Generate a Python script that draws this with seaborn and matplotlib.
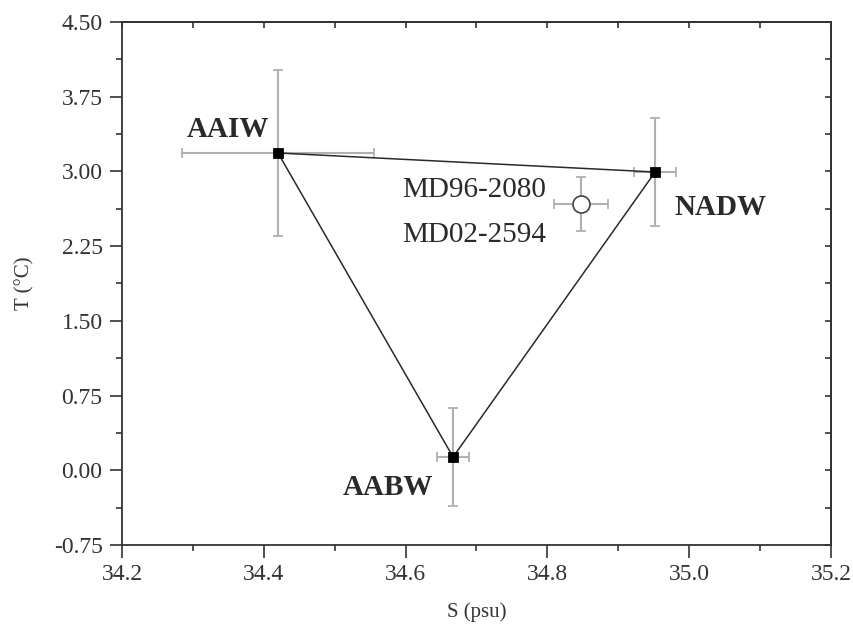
import matplotlib
matplotlib.use('Agg')
import matplotlib.pyplot as plt
import seaborn as sns
import numpy as np
import pandas as pd
from matplotlib.ticker import MultipleLocator, FormatStrFormatter

# end-member water masses
masses = ['AAIW', 'NADW', 'AABW']
mass_s = [34.42, 34.952, 34.667]
mass_t = [3.185, 2.994, 0.133]
mass_s_err = [0.135, 0.03, 0.023]
mass_t_err = [0.83, 0.54, 0.49]

# core site
core_s = [34.847]
core_t = [2.673]
core_s_err = [0.038]
core_t_err = [0.27]
core_names = ['MD96-2080', 'MD02-2594']

sns.set_theme(style='ticks')
plt.rcParams['font.family'] = ['Liberation Serif', 'DejaVu Serif']

fig = plt.figure(figsize=(8.54, 6.34), dpi=100)
ax = fig.add_axes([0.1429, 0.1404, 0.8301, 0.8249])

df = pd.DataFrame({'S': mass_s, 'T': mass_t, 'mass': masses})
tri = pd.concat([df, df.iloc[[0]]], ignore_index=True)

grey = '#b0b0b0'
ax.errorbar(mass_s, mass_t, xerr=mass_s_err, yerr=mass_t_err, fmt='none',
            ecolor=grey, elinewidth=1.5, capsize=3.5, capthick=1.3, zorder=1)
ax.errorbar(core_s, core_t, xerr=core_s_err, yerr=core_t_err, fmt='none',
            ecolor=grey, elinewidth=1.5, capsize=3.5, capthick=1.3, zorder=1)

sns.lineplot(data=tri, x='S', y='T', sort=False, estimator=None, color='#2a2a2a',
             linewidth=1.1, ax=ax, zorder=2)
sns.scatterplot(data=df, x='S', y='T', marker='s', s=50, color='black',
                edgecolor='black', ax=ax, zorder=3)
sns.scatterplot(x=core_s, y=core_t, marker='o', s=150, facecolor='white',
                edgecolor='#444444', linewidth=1.2, ax=ax, zorder=3)

ink = '#2a2a2a'
bold = dict(fontsize=21, fontweight='bold', color=ink)
ax.text(34.35, 3.42, 'AAIW', ha='center', va='center', **bold)
ax.text(34.98, 2.633, 'NADW', ha='left', va='center', **bold)
ax.text(34.575, -0.168, 'AABW', ha='center', va='center', **bold)
ax.text(34.697, 2.81, core_names[0], ha='center', va='center', fontsize=21, color=ink)
ax.text(34.697, 2.36, core_names[1], ha='center', va='center', fontsize=21, color=ink)

ax.set_xlim(34.2, 35.2)
ax.set_ylim(-0.75, 4.5)
ax.xaxis.set_major_locator(MultipleLocator(0.2))
ax.xaxis.set_minor_locator(MultipleLocator(0.1))
ax.yaxis.set_major_locator(MultipleLocator(0.75))
ax.yaxis.set_minor_locator(MultipleLocator(0.375))
ax.xaxis.set_major_formatter(FormatStrFormatter('%.1f'))
ax.yaxis.set_major_formatter(FormatStrFormatter('%.2f'))

for side in ['top', 'right', 'left', 'bottom']:
    ax.spines[side].set_visible(True)
    ax.spines[side].set_linewidth(1.3)
    ax.spines[side].set_color('#333333')

ax.tick_params(which='major', direction='out', length=9, width=1.2, labelsize=17,
               pad=5, colors='#333333', labelcolor='#333333')
ax.tick_params(which='minor', direction='out', length=4, width=1.2, colors='#333333')

# mirrored inward ticks on top and right
axt = ax.secondary_xaxis('top')
axt.xaxis.set_major_locator(MultipleLocator(0.1))
axt.tick_params(direction='in', length=4.5, width=1.2, labeltop=False, colors='#333333')
axr = ax.secondary_yaxis('right')
axr.yaxis.set_major_locator(MultipleLocator(0.375))
axr.tick_params(direction='in', length=4.5, width=1.2, labelright=False, colors='#333333')

ax.set_xlabel('S (psu)', fontsize=15, color='#333333', labelpad=12)
ax.set_ylabel('T (°C)', fontsize=15, color='#333333', labelpad=14)

fig.savefig('out.png', dpi=100)
